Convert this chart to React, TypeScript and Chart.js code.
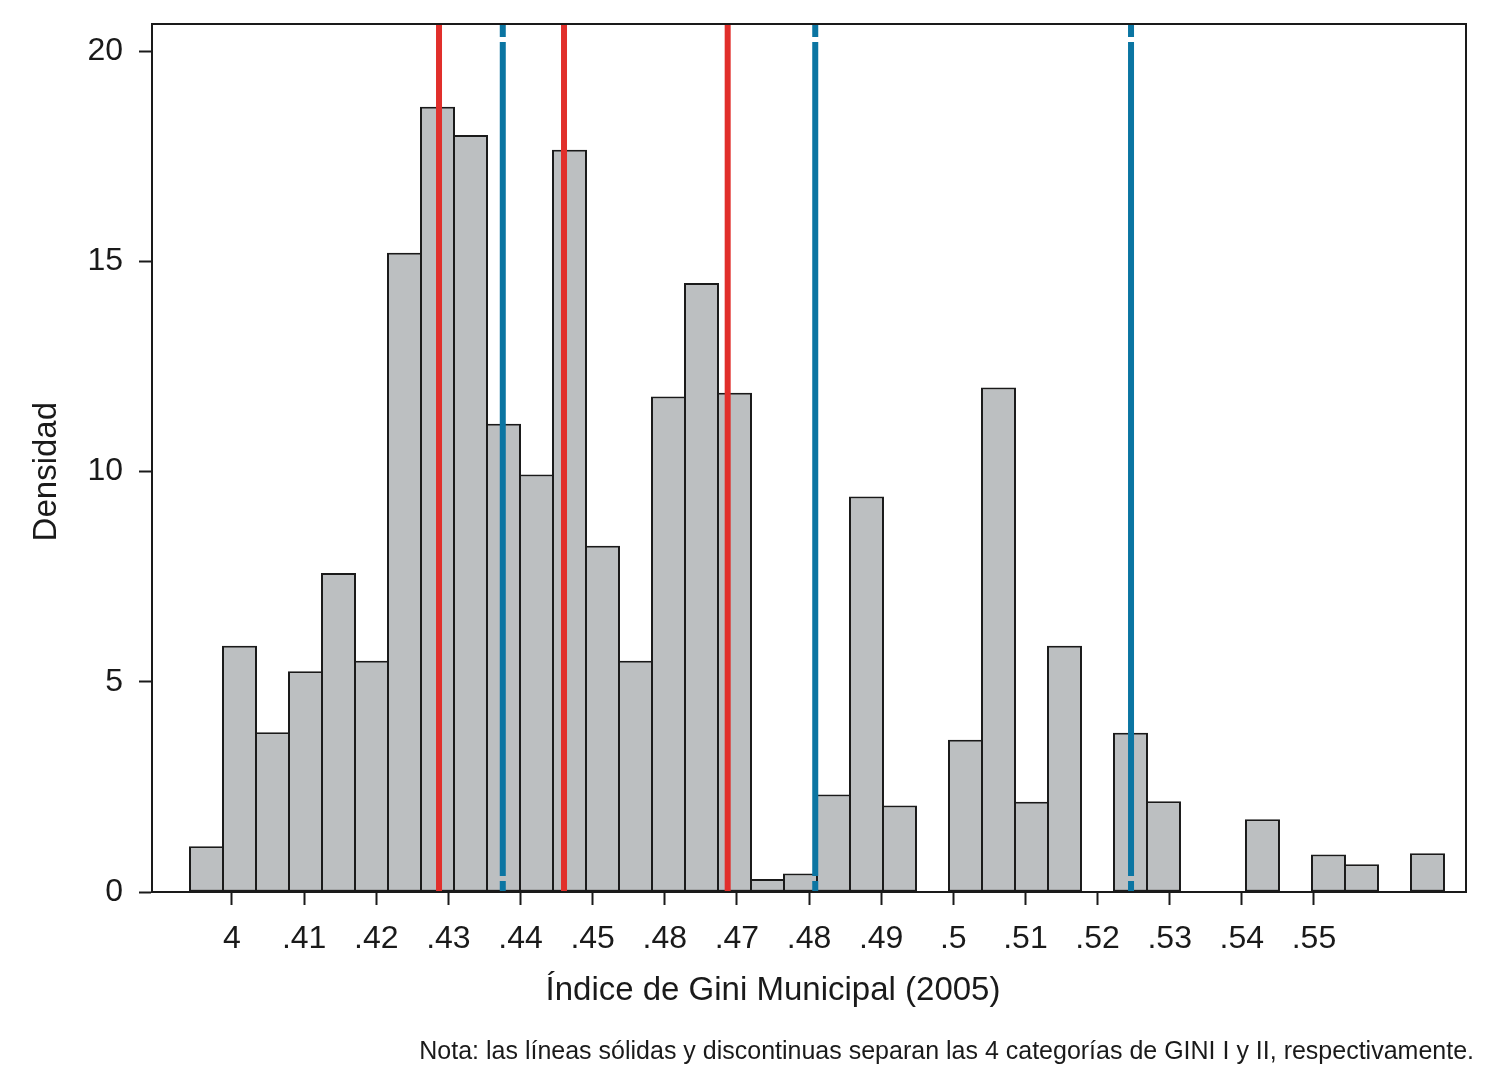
import React, { useEffect, useRef } from "react";
import { Chart, registerables } from "chart.js";

Chart.register(...registerables);

// ---- data ----
const binStart = 0.394177; // left edge of first histogram bin
const binWidth = 0.004575; // width of each bin
const densities: (number | null)[] = [
  1.09, 5.86, 3.8, 5.25, 7.59, 5.5, 15.21, 18.68, 18.01, 11.14,
  9.93, 17.66, 8.24, 5.5, 11.79, 14.49, 11.88, 0.31, 0.44, 2.32,
  9.41, 2.06, null, 3.62, 12.0, 2.15, 5.86, null, 3.79, 2.16,
  null, null, 1.73, null, 0.895, 0.66, null, 0.92,
];
const redCuts = [0.4287, 0.44603, 0.46872]; // solid lines (GINI I)
const blueCuts = [0.43754, 0.48086, 0.52464]; // dashed lines (GINI II)

const xTickValues = [0.4, 0.41, 0.42, 0.43, 0.44, 0.45, 0.46, 0.47, 0.48, 0.49, 0.5, 0.51, 0.52, 0.53, 0.54, 0.55];
const xTickLabels = ["4", ".41", ".42", ".43", ".44", ".45", ".48", ".47", ".48", ".49", ".5", ".51", ".52", ".53", ".54", ".55"];
const yTickValues = [0, 5, 10, 15, 20];

const xMin = 0.388909;
const xMax = 0.57108;
const yMax = 20.65;

const xTitle = "Índice de Gini Municipal (2005)";
const yTitle = "Densidad";
const note = "Nota: las líneas sólidas y discontinuas separan las 4 categorías de GINI I y II, respectivamente.";

// ---- styles ----
const INK = "#1a1a1a";
const BAR_FILL = "#bcbfc1";
const RED = "#e12f2b";
const BLUE = "#0b75a2";
const FONT = '"Liberation Sans", Arial, sans-serif';

const overlayPlugin = {
  id: "overlay",
  afterDraw(chart: any) {
    const { ctx, chartArea: a, scales } = chart;
    ctx.save();
    // frame
    ctx.strokeStyle = INK;
    ctx.lineWidth = 2;
    ctx.strokeRect(a.left, a.top, a.right - a.left, a.bottom - a.top);
    ctx.fillStyle = INK;
    // x title, centred on tick range
    const xs = scales.x;
    const xc = (xs.getPixelForValue(xTickValues[0]) + xs.getPixelForValue(xTickValues[xTickValues.length - 1])) / 2;
    ctx.font = `33px ${FONT}`;
    ctx.textAlign = "center";
    ctx.textBaseline = "alphabetic";
    ctx.fillText(xTitle, xc, a.bottom + 108);
    // y title, centred on tick range
    const ys = scales.y;
    const yc = (ys.getPixelForValue(yTickValues[0]) + ys.getPixelForValue(yTickValues[yTickValues.length - 1])) / 2;
    ctx.save();
    ctx.translate(56, yc);
    ctx.rotate(-Math.PI / 2);
    ctx.fillText(yTitle, 0, 0);
    ctx.restore();
    // note
    ctx.font = `25px ${FONT}`;
    ctx.textAlign = "right";
    ctx.textBaseline = "middle";
    ctx.fillText(note, 1474, 1052);
    ctx.restore();
  },
};

export default function App() {
  const ref = useRef<HTMLCanvasElement | null>(null);

  useEffect(() => {
    if (!ref.current) return;
    const barData = densities.map((d, i) => ({ x: binStart + binWidth * (i + 0.5), y: d }));
    const lineSet = (v: number, color: string, dashed: boolean) => ({
      type: "line" as const,
      data: [
        { x: v, y: 0 },
        { x: v, y: yMax },
      ],
      borderColor: color,
      borderWidth: 6,
      pointRadius: 0,
      borderDash: dashed ? [834, 5] : [],
      borderDashOffset: dashed ? 823 : 0,
      order: 1,
    });
    const chart = new Chart(ref.current, {
      type: "bar",
      data: {
        datasets: [
          {
            type: "bar",
            data: barData as any,
            backgroundColor: BAR_FILL,
            borderColor: INK,
            borderWidth: 2,
            borderSkipped: false,
            barPercentage: 35 / 33,
            categoryPercentage: 1,
            order: 2,
          } as any,
          ...redCuts.map((v) => lineSet(v, RED, false)),
          ...blueCuts.map((v) => lineSet(v, BLUE, true)),
        ],
      },
      options: {
        responsive: false,
        animation: false,
        devicePixelRatio: 1,
        layout: { padding: { left: 0, top: 24, right: 29, bottom: 0 } },
        plugins: { legend: { display: false }, tooltip: { enabled: false } },
        scales: {
          x: {
            type: "linear",
            min: xMin,
            max: xMax,
            offset: false,
            grid: { offset: false, drawOnChartArea: false, drawTicks: true, tickLength: 13, tickWidth: 2, tickColor: INK },
            border: { display: true, color: INK, width: 2 },
            afterBuildTicks: (s: any) => {
              s.ticks = xTickValues.map((v) => ({ value: v }));
            },
            afterFit: (s: any) => {
              s.height = 187;
              s.paddingLeft = 0;
              s.paddingRight = 0;
            },
            ticks: {
              autoSkip: false,
              maxRotation: 0,
              minRotation: 0,
              padding: 15,
              color: INK,
              font: { family: FONT, size: 32 },
              callback: (_v: any, i: number) => xTickLabels[i],
            },
          },
          y: {
            type: "linear",
            min: 0,
            max: yMax,
            grid: { drawOnChartArea: false, drawTicks: true, tickLength: 13, tickWidth: 2, tickColor: INK },
            border: { display: true, color: INK, width: 2 },
            afterBuildTicks: (s: any) => {
              s.ticks = yTickValues.map((v) => ({ value: v }));
            },
            afterFit: (s: any) => {
              s.width = 152;
              s.paddingTop = 0;
              s.paddingBottom = 0;
            },
            ticks: {
              padding: 16,
              color: INK,
              font: { family: FONT, size: 32 },
              callback: (v: any) => String(v),
            },
          },
        },
      },
      plugins: [overlayPlugin],
    } as any);
    return () => chart.destroy();
  }, []);

  return (
    <div style={{ position: "fixed", left: 0, top: 0, width: 1495, height: 1079, background: "#fff" }}>
      <canvas ref={ref} width={1495} height={1079} style={{ width: 1495, height: 1079, display: "block" }} />
    </div>
  );
}
